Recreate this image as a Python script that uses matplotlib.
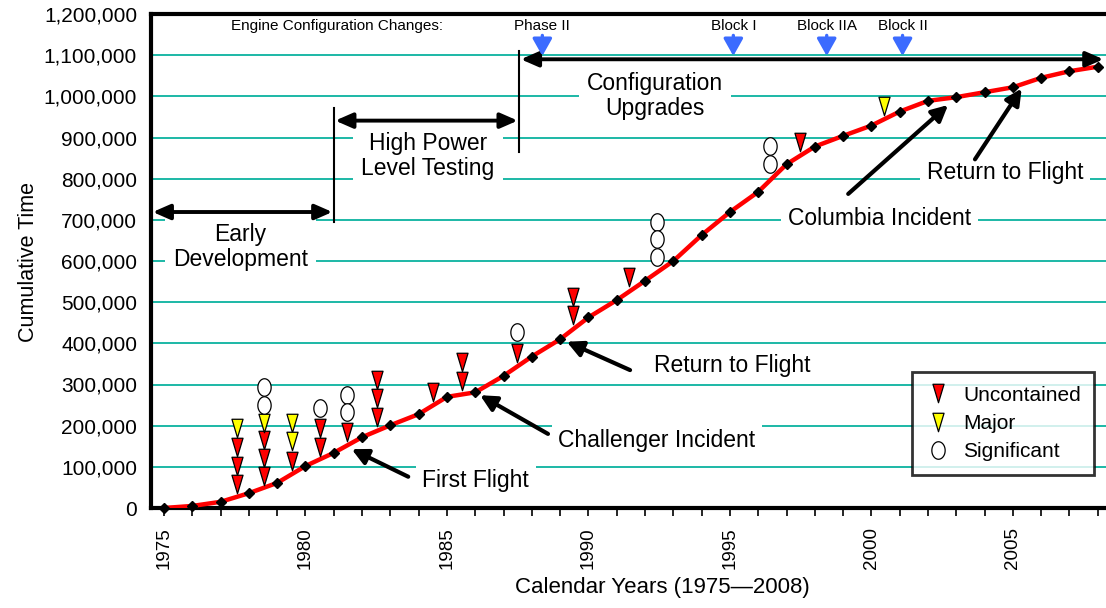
import numpy as np
import matplotlib.pyplot as plt
from matplotlib.path import Path

plt.rcParams['font.family'] = ['Liberation Sans', 'DejaVu Sans']

# cumulative engine test/flight time by calendar year
years = np.arange(1975, 2009)
cum_time = [0, 5000, 15000, 36000, 61000, 102000, 134000, 172000, 201000, 228000,
            270000, 281000, 321000, 368000, 410000, 463000, 505000, 552000, 600000, 663000,
            719000, 768000, 835000, 878000, 904000, 929000, 963000, 989000, 998000, 1010000,
            1022000, 1045000, 1061000, 1072000]

# failure events
uncont_x = [1977.57, 1977.57, 1977.57, 1978.53, 1978.53, 1978.53, 1979.53, 1980.51, 1980.51,
            1981.46, 1982.52, 1982.52, 1982.52, 1984.49, 1985.52, 1985.52, 1987.46,
            1989.44, 1989.44, 1991.44, 1997.47]
uncont_y = [148e3, 103e3, 58e3, 164e3, 121e3, 78e3, 115e3, 194e3, 149e3,
            185e3, 311e3, 266e3, 220e3, 281e3, 354e3, 309e3, 377e3,
            513e3, 468e3, 561e3, 890e3]
major_x = [1977.57, 1978.53, 1979.53, 1979.53, 2000.45]
major_y = [194e3, 206e3, 207e3, 163e3, 977e3]
signif_x = [1978.53, 1978.53, 1980.51, 1981.46, 1981.46, 1987.46,
            1992.41, 1992.41, 1992.41, 1996.41, 1996.41]
signif_y = [293e3, 250e3, 242e3, 274e3, 234e3, 427e3,
            695e3, 653e3, 609e3, 879e3, 836e3]

# engine configuration changes
config_names = ['Phase II', 'Block I', 'Block IIA', 'Block II']
config_years = [1988.37, 1995.12, 1998.42, 2001.1]

# labelled events: text, text position, arrow tail, arrow head
events = [
    ('First Flight', (1986.02, 66e3), (1983.63, 76e3), (1981.63, 143e3)),
    ('Challenger Incident', (1992.42, 165e3), (1988.57, 180e3), (1986.17, 274e3)),
    ('Return to Flight', (1995.07, 345e3), (1991.47, 335e3), (1989.23, 404e3)),
    ('Columbia Incident', (2000.3, 704e3), (1999.18, 763e3), (2002.71, 979e3)),
    ('Return to Flight', (2004.72, 814e3), (2003.66, 847e3), (2005.31, 1019e3)),
]

# program phases
phase_names = ['Early\nDevelopment', 'High Power\nLevel Testing', 'Configuration\nUpgrades']
phase_text = [(1977.7, 634e3), (1984.33, 855e3), (1992.35, 1000e3)]

teal = '#1CB8A6'
blue = '#3B6BFF'

tri = Path([(-0.3, 0.5), (0.3, 0.5), (0, -0.5), (-0.3, 0.5)], closed=True)
t = np.linspace(0, 2 * np.pi, 60)
ell = Path(np.column_stack([0.38 * np.cos(t), 0.5 * np.sin(t)]), closed=True)

fig = plt.figure(figsize=(11.06, 6.08), dpi=100)
ax = fig.add_axes([151 / 1106, 1 - 508 / 608, 955 / 1106, 494 / 608])

ax.set_xlim(1974.54, 2008.29)
ax.set_ylim(0, 1.2e6)

# gridlines
ax.set_yticks(np.arange(0, 1.2e6 + 1, 1e5))
ax.set_yticklabels([f'{int(v):,}' for v in np.arange(0, 1.2e6 + 1, 1e5)], fontsize=15)
ax.yaxis.grid(True, color=teal, lw=1.4)
ax.set_axisbelow(True)
ax.tick_params(axis='y', length=0, pad=10)

ax.set_xticks(years)
ax.set_xticklabels([str(y) if y % 5 == 0 else '' for y in years], rotation=90, fontsize=13.5)
ax.tick_params(axis='x', direction='out', length=6, width=1.2, pad=8)

for s in ['top', 'left', 'bottom']:
    ax.spines[s].set_linewidth(3)
ax.spines['right'].set_visible(False)

# main curve
ax.plot(years, cum_time, color='#FF0000', lw=3.2, zorder=3)
ax.plot(years, cum_time, 'D', color='black', ms=5.5, zorder=4, clip_on=False)

# events
ax.plot(uncont_x, uncont_y, ls='none', marker=tri, ms=13.3, mfc='#FF0000', mec='black',
        mew=0.9, zorder=5, label='Uncontained')
ax.plot(major_x, major_y, ls='none', marker=tri, ms=13.3, mfc='#FFFF00', mec='black',
        mew=0.9, zorder=5, label='Major')
ax.plot(signif_x, signif_y, ls='none', marker=ell, ms=12.6, mfc='white', mec='black',
        mew=0.9, zorder=5, label='Significant')

# phase markers
ax.plot([1981.0, 1981.0], [695e3, 972e3], color='black', lw=1.5, zorder=3)
ax.plot([1987.55, 1987.55], [865e3, 1110e3], color='black', lw=1.5, zorder=3)
dbl = dict(arrowstyle='<|-|>,head_length=0.8,head_width=0.35', color='black', lw=2.8,
           mutation_scale=13, shrinkA=0, shrinkB=0)
ax.annotate('', xy=(1974.6, 719e3), xytext=(1980.95, 719e3), arrowprops=dbl, zorder=6)
ax.annotate('', xy=(1981.05, 941e3), xytext=(1987.5, 941e3), arrowprops=dbl, zorder=6)
ax.annotate('', xy=(1987.61, 1090e3), xytext=(2008.2, 1090e3), arrowprops=dbl, zorder=6)

for name, (px, py) in zip(phase_names, phase_text):
    ax.text(px, py, name, ha='center', va='center', fontsize=16.5, linespacing=1.1,
            zorder=2, bbox=dict(facecolor='white', edgecolor='none', pad=6))

# configuration changes
ax.text(1981.11, 1172e3, 'Engine Configuration Changes:', ha='center', va='center', fontsize=11)
for name, cx in zip(config_names, config_years):
    ax.text(cx, 1172e3, name, ha='center', va='center', fontsize=11)
    ax.annotate('', xy=(cx, 1098e3), xytext=(cx, 1148e3),
                arrowprops=dict(arrowstyle='-|>,head_length=0.8,head_width=0.45', color=blue,
                                lw=2.4, mutation_scale=13, shrinkA=0, shrinkB=0), zorder=7)

# event labels and arrows
for name, txt, tail, head in events:
    ax.text(txt[0], txt[1], name, ha='center', va='center', fontsize=16.5, zorder=2,
            bbox=dict(facecolor='white', edgecolor='none', pad=5))
    ax.annotate('', xy=head, xytext=tail,
                arrowprops=dict(arrowstyle='-|>,head_length=0.6,head_width=0.3', color='black',
                                lw=3, mutation_scale=16, shrinkA=0, shrinkB=0), zorder=6)

leg = ax.legend(loc='upper left', bbox_to_anchor=(0.797, 0.275), borderaxespad=0,
                fontsize=15, frameon=True, fancybox=False, labelspacing=0.45,
                handletextpad=0.6, handlelength=1.2, borderpad=0.65)
leg.get_frame().set_edgecolor('black')
leg.get_frame().set_linewidth(2)
leg.set_zorder(8)

ax.set_ylabel('Cumulative Time', fontsize=15.5)
ax.yaxis.set_label_coords(-0.117, 0.498)
ax.set_xlabel('Calendar Years (1975\u20142008)', fontsize=16)
ax.xaxis.set_label_coords(0.535, -0.14)

fig.savefig('out.png', dpi=100)
